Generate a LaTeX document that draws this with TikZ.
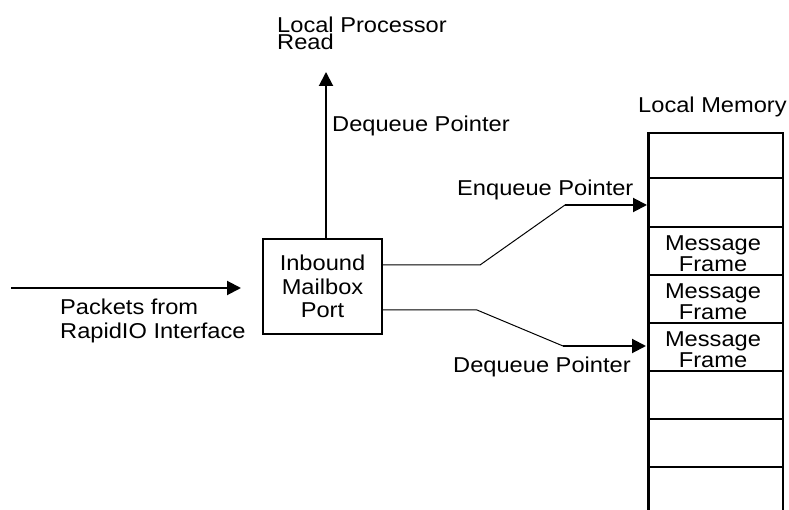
\documentclass[tikz,border=0pt]{standalone}
\usepackage{fontspec}
\setmainfont{Liberation Sans}[FakeStretch=1.1]
\usetikzlibrary{arrows.meta}
\begin{document}
\begin{tikzpicture}[x=1pt,y=-1pt,
  font=\fontsize{21.5}{23.5}\selectfont,
  lbl/.style={inner sep=0pt, anchor=base west},
  tight/.style={font=\fontsize{21.5}{17}\selectfont},
  arr/.style={-{Triangle[length=14pt,width=14pt]}, line width=2pt},
  link/.style={line width=1pt},
  frame/.style={tight, inner sep=0pt, anchor=north, align=center}]
\useasboundingbox (0,0) rectangle (789,510);

% port box
\node[draw, line width=2pt, minimum width=119pt, minimum height=95pt, inner sep=0pt, align=center] (port) at (322.5,286.5) {Inbound\\Mailbox\\Port};

% labels
\node[tight, inner sep=0pt, anchor=north west, align=left] (lpr) at (277,16.5) {Local Processor\\Read};
\node[lbl] (dqup) at (332,132) {Dequeue Pointer};
\node[lbl] (lmem) at (638,113) {Local Memory};
\node[lbl] (enq) at (457,196) {Enqueue Pointer};
\node[lbl] (dqlo) at (453,372) {Dequeue Pointer};
\node[inner sep=0pt, anchor=north west, align=left] (pk) at (60,299) {Packets from\\RapidIO Interface};

% local memory
\draw[line width=2.5pt] (648,510) -- (648,133) -- (783,133) -- (783,510);
\draw[line width=3pt] (648,133) -- (648,510);
\foreach \yy in {178,227,275,323,371,419,467}
  \draw[line width=2pt] (650,\yy) -- (783,\yy);
\node[frame] (mf1) at (713,236) {Message\\Frame};
\node[frame] (mf2) at (713,284) {Message\\Frame};
\node[frame] (mf3) at (713,332) {Message\\Frame};

% coordinates
\coordinate (src) at (11,288);
\coordinate (up) at (326,72);
\coordinate (mq) at (647,205);
\coordinate (md) at (646,346);
\coordinate (e1) at (480,265);
\coordinate (e2) at (565,205);
\coordinate (d1) at (477,310);
\coordinate (d2) at (563,346);

% connectors
\draw[arr, shorten >=21pt] (src) -- (port.west |- src);
\draw[arr] (port.north -| up) -- (up);
\draw[link] (port.east |- e1) -- (e1) -- (e2);
\draw[arr] (e2) -- (mq);
\draw[link] (port.east |- d1) -- (d1) -- (d2);
\draw[arr] (d2) -- (md);
\end{tikzpicture}
\end{document}
